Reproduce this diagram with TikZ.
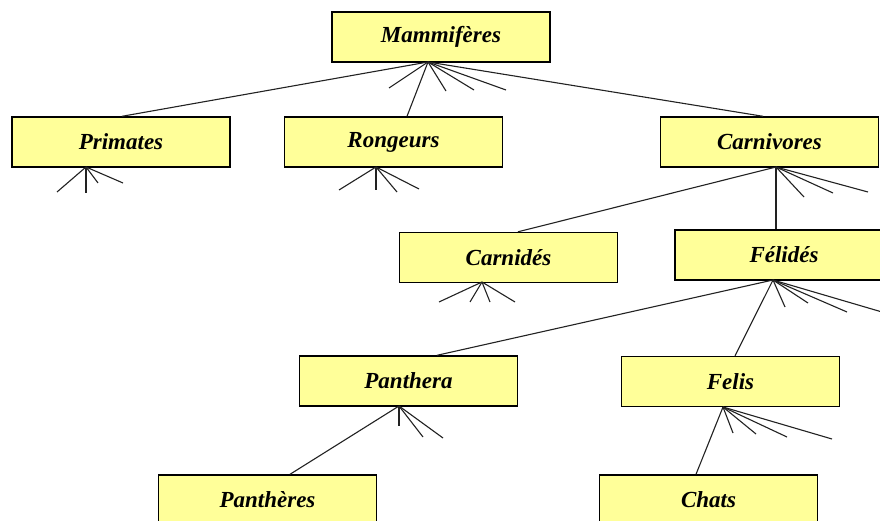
\documentclass[tikz,border=0pt]{standalone}
\usepackage{fontspec}
\setmainfont{Liberation Serif}
\definecolor{boxfill}{HTML}{FFFF99}
\definecolor{linecol}{HTML}{222222}
\begin{document}
\begin{tikzpicture}[x=1pt,y=-1pt,
  taxon/.style={draw=black, line width=1.4pt, fill=boxfill, rectangle,
    minimum width=218pt, minimum height=50pt, inner sep=0pt,
    font=\fontsize{23}{25}\selectfont\bfseries\itshape},
  link/.style={draw=linecol, line width=1.1pt},
  stub/.style={draw=linecol, line width=1.1pt}]
\useasboundingbox (0,0) rectangle (880,521);
\fill[white] (0,0) rectangle (880,521);
\clip (0,0) rectangle (880,521);

% boxes
\node[taxon] (mam) at (441,37) {Mammifères};
\node[taxon] (pri) at (121,142) {Primates};
\node[taxon] (ron) at (393.5,142) {Rongeurs};
\node[taxon] (car) at (769.5,142) {Carnivores};
\node[taxon] (cnd) at (508.5,257.5) {Carnidés};
\node[taxon] (fel) at (784,255) {Félidés};
\node[taxon] (pan) at (408.5,381) {Panthera};
\node[taxon] (fls) at (730.5,381.5) {Felis};
\node[taxon] (pts) at (267.5,500) {Panthères};
\node[taxon] (cht) at (708.5,500) {Chats};

% fan origins
\coordinate (mamO) at (428,62);
\coordinate (priO) at (86,167);
\coordinate (ronO) at (376,167);
\coordinate (carO) at (776,167);
\coordinate (cndO) at (482,282);
\coordinate (felO) at (773,280);
\coordinate (panO) at (399,406);
\coordinate (flsO) at (723,407);

% connectors
\draw[link] (mamO) -- ([xshift=1pt]pri.north);
\draw[link] (mamO) -- ([xshift=13.5pt]ron.north);
\draw[link] (mamO) -- ([xshift=-6.5pt]car.north);
\draw[link] (carO) -- ([xshift=9.5pt]cnd.north);
\draw[link] (carO) -- ([xshift=-8pt]fel.north);
\draw[link] (felO) -- ([xshift=28.5pt]pan.north);
\draw[link] (felO) -- ([xshift=4.5pt]fls.north);
\draw[link] (panO) -- ([xshift=22.5pt]pts.north);
\draw[link] (flsO) -- ([xshift=-12.5pt]cht.north);

% stubs (free ends)
\foreach \p in {(389,88),(446,91),(474,90),(506,90)} \draw[stub] (mamO) -- \p;
\foreach \p in {(57,192),(86,193),(98,183),(123,183)} \draw[stub] (priO) -- \p;
\foreach \p in {(339,190),(376,190),(397,192),(419,189)} \draw[stub] (ronO) -- \p;
\foreach \p in {(804,197),(833,193),(868,192)} \draw[stub] (carO) -- \p;
\foreach \p in {(439,302),(470,302),(490,302),(515,302)} \draw[stub] (cndO) -- \p;
\foreach \p in {(785,307),(808,303),(847,312),(882,312)} \draw[stub] (felO) -- \p;
\foreach \p in {(399,426),(423,437),(443,438)} \draw[stub] (panO) -- \p;
\foreach \p in {(733,433),(756,434),(787,437),(832,439)} \draw[stub] (flsO) -- \p;
\end{tikzpicture}
\end{document}
